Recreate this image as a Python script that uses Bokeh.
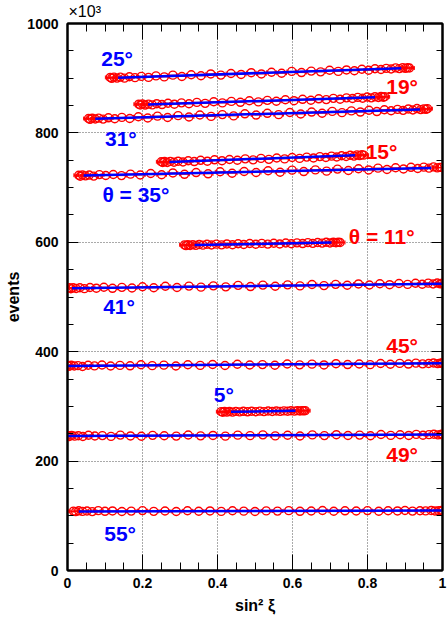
from bokeh.plotting import figure
from bokeh.models import LinearAxis, Range1d, FixedTicker, ColumnDataSource, CustomLabelingPolicy
from bokeh.core.properties import value
from bokeh.embed import file_html
from bokeh.resources import INLINE

# ---------------- data (events in units of 10^3) ----------------
x25 = [0.114, 0.118, 0.124, 0.132, 0.141, 0.152, 0.165, 0.18, 0.197, 0.216, 0.236, 0.258, 0.281, 0.305, 0.33,
       0.356, 0.382, 0.409, 0.436, 0.463, 0.49, 0.517, 0.544, 0.571, 0.598, 0.624, 0.65, 0.675, 0.699, 0.722,
       0.744, 0.765, 0.785, 0.803, 0.82, 0.836, 0.85, 0.863, 0.875, 0.885, 0.894, 0.901, 0.907, 0.912]
y25 = [901.4, 899.8, 901.9, 900.2, 902.0, 900.1, 902.6, 901.0, 903.3, 901.5, 904.2, 902.4, 905.6, 903.2, 906.3,
       904.5, 907.8, 905.7, 908.6, 906.9, 910.1, 907.8, 910.9, 909.0, 912.4, 910.3, 913.0, 911.6, 914.5, 912.4,
       915.1, 913.6, 916.4, 914.5, 917.3, 915.9, 918.0, 916.9, 918.9, 917.5, 919.3, 918.0, 919.1, 918.6]

x19 = [0.19, 0.194, 0.2, 0.207, 0.216, 0.226, 0.238, 0.252, 0.268, 0.285, 0.304, 0.324, 0.345, 0.367, 0.39,
       0.413, 0.437, 0.461, 0.485, 0.509, 0.533, 0.557, 0.581, 0.604, 0.627, 0.649, 0.67, 0.69, 0.709, 0.727,
       0.744, 0.76, 0.774, 0.787, 0.799, 0.81, 0.82, 0.829, 0.836, 0.842, 0.846]
y19 = [852.5, 851.0, 852.9, 850.9, 852.6, 851.2, 853.4, 851.8, 854.2, 852.5, 854.9, 853.2, 855.8, 854.0, 856.9,
       854.8, 857.6, 855.9, 858.8, 856.7, 859.5, 857.8, 860.6, 858.9, 861.4, 859.7, 862.3, 860.9, 863.2, 861.6,
       864.1, 862.8, 864.9, 863.4, 865.7, 864.1, 866.2, 864.8, 866.5, 865.3, 866.0]

x31 = [0.056, 0.06, 0.066, 0.074, 0.083, 0.095, 0.109, 0.126, 0.145, 0.166, 0.189, 0.214, 0.24, 0.267, 0.295,
       0.324, 0.353, 0.383, 0.413, 0.443, 0.473, 0.503, 0.533, 0.563, 0.593, 0.622, 0.651, 0.679, 0.706, 0.732,
       0.757, 0.781, 0.804, 0.825, 0.845, 0.863, 0.88, 0.895, 0.909, 0.921, 0.932, 0.942, 0.95, 0.956, 0.96]
y31 = [826.3, 824.8, 826.9, 825.4, 827.0, 825.2, 827.6, 825.9, 828.3, 826.4, 829.5, 827.2, 830.6, 828.1, 831.5,
       829.0, 832.8, 830.2, 833.5, 831.1, 834.9, 832.6, 835.8, 833.4, 837.2, 834.6, 838.1, 835.9, 839.3, 837.0,
       840.2, 838.1, 841.4, 839.0, 842.3, 840.4, 843.0, 841.2, 843.8, 841.9, 844.5, 842.6, 844.0, 843.1, 844.3]

x15 = [0.25, 0.254, 0.259, 0.266, 0.274, 0.284, 0.295, 0.308, 0.322, 0.338, 0.355, 0.373, 0.392, 0.412, 0.432,
       0.453, 0.474, 0.495, 0.516, 0.537, 0.558, 0.579, 0.599, 0.619, 0.638, 0.656, 0.673, 0.689, 0.704, 0.718,
       0.731, 0.743, 0.754, 0.764, 0.772, 0.779, 0.785, 0.79]
y15 = [747.2, 745.8, 747.6, 746.0, 747.9, 746.4, 748.3, 746.9, 749.0, 747.6, 749.9, 748.3, 750.8, 749.2, 751.4,
       750.0, 752.6, 750.7, 753.4, 751.6, 754.2, 752.5, 755.1, 753.4, 755.8, 754.2, 756.7, 755.0, 757.5, 756.0,
       758.2, 756.9, 759.1, 757.6, 759.8, 758.4, 760.2, 759.3]

x35 = [0.03, 0.034, 0.04, 0.048, 0.058, 0.07, 0.085, 0.102, 0.122, 0.144, 0.168, 0.194, 0.222, 0.251, 0.281,
       0.312, 0.343, 0.375, 0.407, 0.439, 0.471, 0.503, 0.535, 0.567, 0.599, 0.63, 0.661, 0.691, 0.72, 0.749,
       0.776, 0.803, 0.828, 0.852, 0.875, 0.896, 0.916, 0.934, 0.95, 0.964, 0.976, 0.986, 0.993, 0.998]
y35 = [722.6, 720.8, 723.1, 721.5, 722.9, 721.0, 723.8, 722.1, 724.0, 721.9, 724.6, 723.0, 725.7, 723.4, 726.8,
       724.3, 727.5, 725.2, 728.9, 726.3, 729.4, 727.6, 730.8, 728.1, 731.9, 729.3, 732.4, 730.1, 733.8, 731.2,
       734.5, 732.3, 735.6, 733.0, 736.2, 734.0, 737.1, 735.0, 737.4, 735.6, 737.9, 736.0, 737.0, 736.8]

x11 = [0.312, 0.316, 0.321, 0.327, 0.334, 0.342, 0.351, 0.361, 0.372, 0.384, 0.397, 0.411, 0.425, 0.44, 0.455,
       0.47, 0.486, 0.502, 0.518, 0.534, 0.55, 0.566, 0.582, 0.597, 0.612, 0.627, 0.641, 0.654, 0.667, 0.679,
       0.69, 0.7, 0.709, 0.716, 0.722, 0.727]
y11 = [595.3, 593.9, 595.6, 594.2, 595.8, 594.3, 596.1, 594.8, 596.4, 595.0, 596.6, 595.3, 597.0, 595.6, 597.4,
       596.0, 597.8, 596.4, 598.0, 596.7, 598.3, 597.0, 598.7, 597.3, 599.0, 597.7, 599.4, 598.1, 599.7, 598.5,
       600.0, 598.8, 600.2, 599.3, 600.1, 599.7]

x41 = [0.005, 0.009, 0.015, 0.023, 0.033, 0.045, 0.06, 0.077, 0.097, 0.12, 0.145, 0.172, 0.2, 0.23, 0.261,
       0.292, 0.324, 0.356, 0.389, 0.422, 0.455, 0.488, 0.521, 0.554, 0.587, 0.62, 0.652, 0.684, 0.715, 0.746,
       0.776, 0.805, 0.833, 0.859, 0.884, 0.907, 0.928, 0.946, 0.962, 0.975, 0.986, 0.994, 0.998, 1.0]
y41 = [516.8, 515.2, 517.0, 515.6, 516.9, 515.3, 517.4, 516.1, 517.9, 515.9, 517.6, 516.4, 518.7, 516.9, 519.6,
       517.3, 519.9, 518.0, 520.4, 518.6, 521.3, 519.1, 521.8, 519.7, 522.2, 520.3, 522.9, 520.8, 523.1, 521.4,
       523.9, 521.9, 524.2, 522.5, 524.6, 523.0, 525.1, 523.4, 525.3, 523.7, 525.6, 524.0, 524.9, 525.4]

x45 = [0.0, 0.004, 0.01, 0.018, 0.028, 0.04, 0.055, 0.072, 0.092, 0.115, 0.14, 0.167, 0.196, 0.226, 0.257,
       0.289, 0.321, 0.354, 0.387, 0.42, 0.453, 0.486, 0.52, 0.553, 0.586, 0.619, 0.652, 0.684, 0.716, 0.747,
       0.778, 0.807, 0.835, 0.861, 0.886, 0.909, 0.929, 0.947, 0.963, 0.976, 0.987, 0.994, 0.999, 1.0]
y45 = [374.8, 373.2, 375.1, 373.9, 374.6, 372.9, 375.3, 374.0, 375.6, 373.8, 375.0, 374.2, 376.1, 374.5, 375.4,
       373.9, 376.2, 375.0, 376.6, 374.8, 377.0, 375.6, 376.4, 375.2, 377.5, 376.0, 377.2, 375.8, 378.1, 376.5,
       377.6, 376.3, 378.4, 377.0, 378.6, 377.4, 379.1, 377.8, 378.5, 379.4, 378.2, 379.0, 379.6, 378.8]

x5 = [0.41, 0.414, 0.419, 0.425, 0.432, 0.44, 0.449, 0.459, 0.469, 0.48, 0.491, 0.502, 0.513, 0.524, 0.535,
      0.546, 0.557, 0.567, 0.577, 0.587, 0.596, 0.605, 0.613, 0.62, 0.626, 0.63, 0.634]
y5 = [290.4, 289.3, 290.6, 289.5, 290.8, 289.6, 290.9, 289.9, 291.0, 290.1, 291.2, 290.2, 291.3, 290.5, 291.5,
      290.6, 291.7, 290.9, 291.8, 291.1, 292.1, 291.3, 292.2, 291.6, 292.3, 291.9, 292.2]

x49 = [0.0, 0.005, 0.011, 0.019, 0.029, 0.041, 0.056, 0.073, 0.093, 0.116, 0.141, 0.168, 0.197, 0.227, 0.258,
       0.29, 0.322, 0.355, 0.388, 0.421, 0.454, 0.487, 0.521, 0.554, 0.587, 0.62, 0.653, 0.685, 0.717, 0.748,
       0.779, 0.808, 0.836, 0.862, 0.887, 0.91, 0.93, 0.948, 0.964, 0.977, 0.988, 0.995, 0.999, 1.0]
y49 = [246.9, 245.1, 247.0, 245.6, 246.4, 244.9, 247.3, 245.8, 246.6, 245.2, 247.5, 246.0, 245.4, 247.1, 246.3,
       245.7, 247.8, 246.2, 246.9, 245.6, 247.4, 246.5, 248.0, 246.1, 247.2, 245.9, 247.9, 246.6, 248.3, 246.8,
       247.5, 246.4, 248.6, 247.0, 248.1, 246.9, 248.8, 247.3, 248.4, 249.2, 247.9, 248.6, 249.4, 248.5]

x55 = [0.016, 0.022, 0.03, 0.04, 0.052, 0.066, 0.082, 0.10, 0.12, 0.145, 0.17, 0.20, 0.23, 0.26, 0.29,
       0.32, 0.35, 0.38, 0.41, 0.44, 0.47, 0.50, 0.53, 0.56, 0.59, 0.62, 0.65, 0.68, 0.71, 0.74,
       0.77, 0.80, 0.83, 0.855, 0.88, 0.90, 0.92, 0.94, 0.955, 0.97, 0.98, 0.99, 0.997, 1.0]
y55 = [108.5, 107.6, 109.1, 108.0, 108.8, 107.7, 109.4, 108.2, 108.9, 107.9, 108.6, 109.5, 108.1, 108.7, 107.8,
       109.2, 108.4, 108.9, 108.0, 109.3, 108.5, 107.9, 109.0, 108.6, 109.4, 108.2, 108.8, 109.6, 108.3, 109.1,
       108.7, 109.5, 108.4, 109.2, 108.9, 109.7, 108.6, 109.3, 109.0, 109.8, 108.9, 109.4, 109.6, 109.2]

# fitted straight lines, one per series (same order as series list)
fit_x0 = [0.135, 0.215, 0.074, 0.272, 0.043, 0.339, 0.012, 0.0, 0.436, 0.0, 0.03]
fit_x1 = [0.89, 0.82, 0.94, 0.767, 0.97, 0.704, 1.0, 1.0, 0.608, 1.0, 1.0]
fit_y0 = [901.0, 852.0, 826.0, 747.0, 722.0, 595.0, 516.0, 374.0, 290.0, 246.0, 108.0]
fit_y1 = [918.0, 865.0, 843.0, 759.0, 736.0, 599.5, 524.0, 379.0, 292.0, 248.5, 109.5]

# angle labels
label_text = ["25°", "19°", "31°", "15°", "θ = 35°", "θ = 11°", "41°", "45°", "5°", "49°", "55°"]
label_x = [0.09, 0.85, 0.10, 0.795, 0.093, 0.75, 0.095, 0.85, 0.39, 0.85, 0.098]
label_y = [936, 885, 790, 766, 688, 611, 482, 412, 321, 212, 68]
label_color = ["#0000ff", "#ff0000", "#0000ff", "#ff0000", "#0000ff", "#ff0000",
               "#0000ff", "#ff0000", "#0000ff", "#ff0000", "#0000ff"]

x_ticks = [0, 0.2, 0.4, 0.6, 0.8, 1.0]
y_ticks = [0, 200, 400, 600, 800, 1000]
x_minor = [i / 20 for i in range(21)]
y_minor = [i * 50 for i in range(21)]

x_err = 0.013
cap_half = 3.5

series = [(x25, y25), (x19, y19), (x31, y31), (x15, y15), (x35, y35), (x11, y11),
          (x41, y41), (x45, y45), (x5, y5), (x49, y49), (x55, y55)]

FONT = "Liberation Sans"
RED = "#ff0000"
BLUE = "#0000ff"

p = figure(width=447, height=626, x_range=Range1d(0, 1), y_range=Range1d(0, 1000),
           output_backend="svg", toolbar_location=None,
           min_border_left=67, min_border_right=1, min_border_top=22, min_border_bottom=56,
           x_axis_label="sin² ξ", y_axis_label="events")
p.background_fill_color = "white"
p.border_fill_color = "white"
p.outline_line_color = "black"
p.outline_line_width = 2

p.title.text = "×10³"
p.title.align = "left"
p.title.offset = 1
p.title.standoff = 0
p.title.text_font = FONT
p.title.text_font_style = "normal"
p.title.text_font_size = "16px"
p.title.text_color = "black"

p.xaxis.ticker = FixedTicker(ticks=x_ticks, minor_ticks=x_minor)
p.yaxis.ticker = FixedTicker(ticks=y_ticks, minor_ticks=y_minor)
p.xaxis.major_label_overrides = {1.0: "1", 0: "0"}


def style_axis(ax, major_in, minor_in):
    ax.axis_line_color = "black"
    ax.axis_line_width = 2
    ax.major_tick_line_color = "black"
    ax.minor_tick_line_color = "black"
    ax.major_tick_line_width = 1
    ax.minor_tick_line_width = 1
    ax.major_tick_in = major_in
    ax.major_tick_out = 0
    ax.minor_tick_in = minor_in
    ax.minor_tick_out = 0
    ax.major_label_text_font = FONT
    ax.major_label_text_font_style = "bold"
    ax.major_label_text_font_size = "14px"
    ax.major_label_text_color = "black"
    ax.axis_label_text_font = FONT
    ax.axis_label_text_font_style = "bold"
    ax.axis_label_text_font_size = "16px"
    ax.axis_label_text_color = "black"


for ax in p.xaxis:
    style_axis(ax, 16, 8)
    ax.major_label_standoff = 7
    ax.axis_label_standoff = 6
for ax in p.yaxis:
    style_axis(ax, 11, 6)
    ax.major_label_standoff = 9
    ax.axis_label_standoff = 2

top = LinearAxis(ticker=FixedTicker(ticks=x_ticks, minor_ticks=x_minor))
style_axis(top, 16, 8)
top.major_label_policy = CustomLabelingPolicy(code="return new Set()")
top.major_label_text_font_size = "1px"
top.major_label_standoff = 0
p.add_layout(top, "above")
right = LinearAxis(ticker=FixedTicker(ticks=y_ticks, minor_ticks=y_minor))
style_axis(right, 11, 6)
right.major_label_policy = CustomLabelingPolicy(code="return new Set()")
right.major_label_text_font_size = "1px"
right.major_label_standoff = 0
p.add_layout(right, "right")

for g in (p.xgrid, p.ygrid):
    g.grid_line_color = "#555555"
    g.grid_line_dash = "1 2"
    g.grid_line_width = 1

# data points with horizontal error bars
for xs, ys in series:
    src = ColumnDataSource(dict(
        x=xs, y=ys,
        xl=[v - x_err for v in xs], xr=[v + x_err for v in xs],
        yl=[v - cap_half for v in ys], yh=[v + cap_half for v in ys]))
    p.segment(x0="xl", y0="y", x1="xr", y1="y", source=src, line_color=RED, line_width=1)
    p.segment(x0="xl", y0="yl", x1="xl", y1="yh", source=src, line_color=RED, line_width=1)
    p.segment(x0="xr", y0="yl", x1="xr", y1="yh", source=src, line_color=RED, line_width=1)
    p.scatter(x="x", y="y", source=src, marker="circle", size=8, fill_color=None,
              line_color=RED, line_width=1.4)

# fit lines
p.segment(x0=fit_x0, y0=fit_y0, x1=fit_x1, y1=fit_y1, line_color=BLUE, line_width=2.5)

# labels
lab_src = ColumnDataSource(dict(x=label_x, y=label_y, t=label_text, c=label_color))
p.text(x="x", y="y", text="t", text_color="c", source=lab_src, text_font=value(FONT),
       text_font_style="bold", text_font_size="21px", text_align="left", text_baseline="middle")

open("out.html", "w").write(file_html(p, INLINE))
